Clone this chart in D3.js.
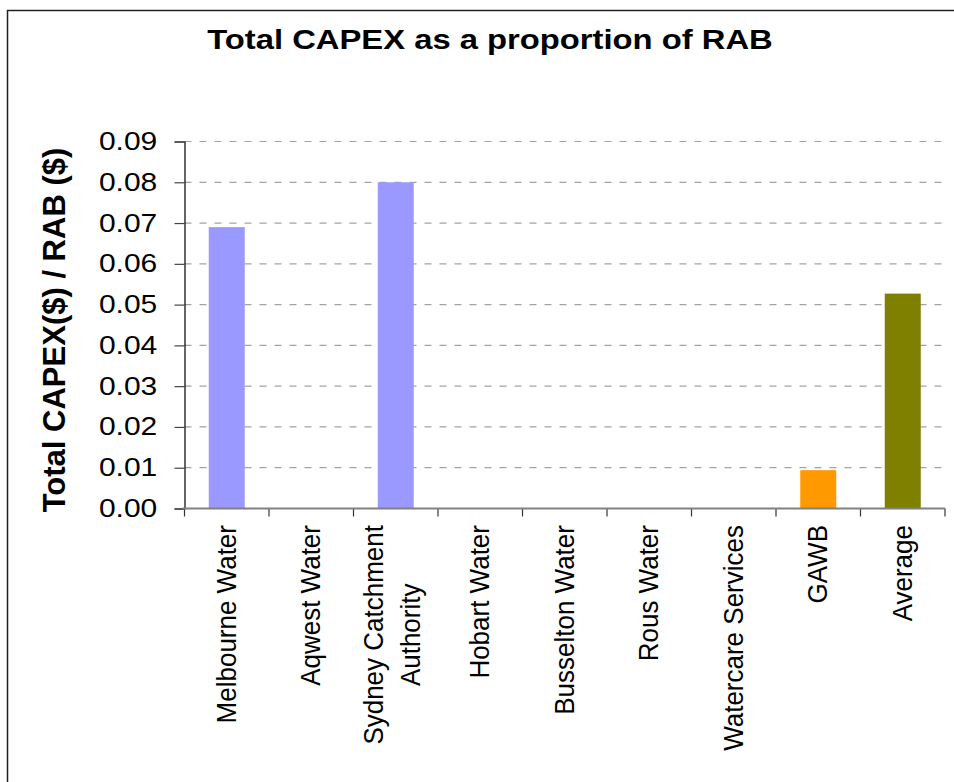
<!DOCTYPE html>
<html>
<head>
<meta charset="utf-8">
<script src="https://cdn.jsdelivr.net/npm/d3@7"></script>
<style>
  html, body { margin: 0; padding: 0; background: #fff; }
  svg { display: block; font-family: "Liberation Sans", Arial, sans-serif; }
</style>
</head>
<body>
<svg id="chart" width="954" height="782"></svg>
<script>
// ---- data ----
const categories = ["Melbourne Water", "Aqwest Water", "Sydney Catchment\nAuthority", "Hobart Water",
  "Busselton Water", "Rous Water", "Watercare Services", "GAWB", "Average"];
const values = [0.069, 0, 0.080, 0, 0, 0, 0, 0.0094, 0.0527];
const barColors = ["#9999FF", "#9999FF", "#9999FF", "#9999FF", "#9999FF", "#9999FF", "#9999FF", "#FF9900", "#808000"];
const yTicks = [0, 0.01, 0.02, 0.03, 0.04, 0.05, 0.06, 0.07, 0.08, 0.09];
const titleText = "Total CAPEX as a proportion of RAB";
const yTitle = "Total CAPEX($) / RAB ($)";

// ---- layout ----
const svg = d3.select("#chart");
const plotLeft = 184.5, plotRight = 945, plotTop = 141.5, plotBottom = 508.5;

svg.append("rect").attr("x", 0).attr("y", 0).attr("width", 954).attr("height", 782).attr("fill", "#fff");
// frame (only left/top edges are visible in the picture)
svg.append("rect").attr("x", 7.5).attr("y", 10.5).attr("width", 1000).attr("height", 1000)
  .attr("fill", "none").attr("stroke", "#222").attr("stroke-width", 1.5);

const x = d3.scaleBand().domain(categories).range([plotLeft, plotRight])
  .paddingInner(0.574).paddingOuter(0.287);
const y = d3.scaleLinear().domain([0, 0.09]).range([plotBottom, plotTop]);

// gridlines
svg.append("g").selectAll("line").data(yTicks.filter(d => d > 0)).join("line")
  .attr("x1", plotLeft).attr("x2", plotRight)
  .attr("y1", d => y(d)).attr("y2", d => y(d))
  .attr("stroke", "#a3a3a3").attr("stroke-width", 1.2).attr("stroke-dasharray", "7,8");

// bars
svg.append("g").selectAll("rect").data(values).join("rect")
  .attr("x", (d, i) => x(categories[i]))
  .attr("width", x.bandwidth())
  .attr("y", d => y(d))
  .attr("height", d => y(0) - y(d))
  .attr("fill", (d, i) => barColors[i]);

// y axis
const yAxis = svg.append("g").attr("transform", `translate(${plotLeft},0)`)
  .call(d3.axisLeft(y).tickValues(yTicks).tickFormat(d3.format(".2f")).tickSize(10).tickPadding(12));
yAxis.select(".domain").attr("stroke", "#000").attr("stroke-width", 1.2);
yAxis.selectAll(".tick line").attr("stroke", "#444").attr("stroke-width", 1.2);
yAxis.selectAll(".tick text")
  .attr("x", -22.7).attr("dy", "0.32em")
  .attr("transform", "scale(1.2,1)")
  .attr("font-size", 25).attr("fill", "#000")
  .attr("font-family", "Liberation Sans, Arial, sans-serif");

// x axis
const step = x.step();
const gap = (step - x.bandwidth()) / 2;
const bounds = categories.map(c => x(c) - gap).concat([x(categories[categories.length - 1]) + x.bandwidth() + gap]);
svg.append("g").selectAll("line").data(bounds).join("line")
  .attr("x1", d => d).attr("x2", d => d)
  .attr("y1", y(0)).attr("y2", y(0) + 8)
  .attr("stroke", "#333").attr("stroke-width", 1.2);
svg.append("line").attr("x1", plotLeft - 2).attr("x2", plotRight)
  .attr("y1", y(0)).attr("y2", y(0))
  .attr("stroke", "#808080").attr("stroke-width", 2);

// category labels (rotated)
const labelTop = 525;
const lineGap = 34;
categories.forEach(c => {
  const lines = c.split("\n");
  const n = lines.length;
  const cx = x(c) + x.bandwidth() / 2;
  const t = svg.append("text").attr("font-size", 26).attr("fill", "#000").attr("text-anchor", "middle");
  const spans = lines.map((ln, i) => t.append("tspan").attr("x", 0)
    .attr("y", 8.5 + (i - (n - 1) / 2) * lineGap - (n > 1 ? 3.5 : 0)).text(ln));
  const maxLen = d3.max(spans, s => s.node().getComputedTextLength());
  t.attr("transform", `translate(${cx},${labelTop + maxLen / 2}) scale(1.08,1) rotate(-90)`);
});

// titles
svg.append("text").attr("transform", "translate(490,48.5) scale(1.15,1)")
  .attr("text-anchor", "middle").attr("font-size", 28.5).attr("font-weight", "bold").text(titleText);
svg.append("text").attr("transform", `translate(65,${(plotTop + plotBottom) / 2 + 5}) rotate(-90)`)
  .attr("text-anchor", "middle").attr("font-size", 31).attr("font-weight", "bold").text(yTitle);
</script>
</body>
</html>
